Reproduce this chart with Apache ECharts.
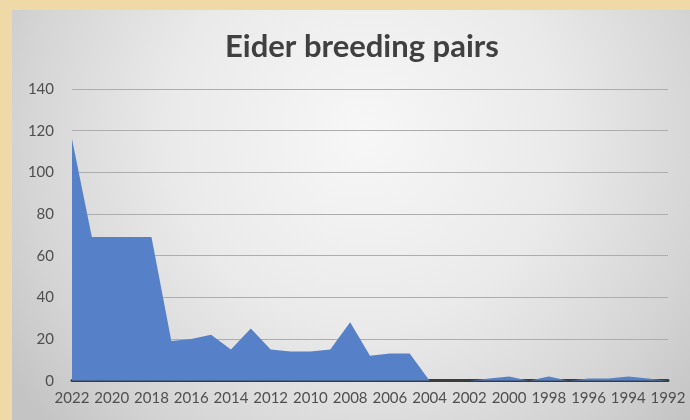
<!DOCTYPE html>
<html>
<head>
<meta charset="utf-8">
<script src="https://cdn.jsdelivr.net/npm/echarts@6/dist/echarts.min.js"></script>
<style>
  html, body { margin: 0; padding: 0; background: #efdaa7; }
  #chart { width: 690px; height: 420px; }
</style>
</head>
<body>
<div id="chart"></div>
<script>
// Survey years, newest first, as plotted left to right
const years = ['2022','2021','2020','2019','2018','2017','2016','2015','2014','2013',
               '2012','2011','2010','2009','2008','2007','2006','2005','2004','2003',
               '2002','2001','2000','1999','1998','1997','1996','1995','1994','1993','1992'];

// Number of eider breeding pairs counted each year
const breedingPairs = [116, 69, 69, 69, 69, 19, 20, 22, 15, 25,
                       15, 14, 14, 15, 28, 12, 13, 13, 0, 0,
                       0, 1, 2, 0, 2, 0, 1, 1, 2, 1, 0];

// Value axis ticks
const yTicks = [0, 20, 40, 60, 80, 100, 120, 140];

const chart = echarts.init(document.getElementById('chart'), null, { renderer: 'canvas' });

const fontFamily = 'Lato, "Open Sans", sans-serif';

chart.setOption({
  backgroundColor: '#efdaa7',
  animation: false,
  graphic: [
    {
      type: 'rect',
      z: -100,
      silent: true,
      shape: { x: 12, y: 10, width: 678, height: 410 },
      style: {
        fill: {
          type: 'radial',
          x: 0.52, y: 0.3, r: 1.05,
          colorStops: [
            { offset: 0, color: '#f7f7f7' },
            { offset: 0.45, color: '#eaeaea' },
            { offset: 0.8, color: '#d4d4d4' },
            { offset: 1, color: '#c4c4c4' }
          ]
        }
      }
    },
    {
      type: 'text',
      z: 10,
      x: 362,
      y: 31,
      style: {
        text: 'Eider breeding pairs',
        fill: '#404040',
        font: 'bold 31px ' + fontFamily,
        textAlign: 'center',
        textVerticalAlign: 'top'
      }
    }
  ],
  grid: { left: 72, right: 22, top: 89, bottom: 39.3, containLabel: false },
  xAxis: {
    type: 'category',
    data: years,
    boundaryGap: false,
    axisLine: { show: true, lineStyle: { color: '#3c3c3c', width: 3 } },
    axisTick: { show: false },
    axisLabel: {
      interval: 1,
      margin: 10,
      color: '#4f4f4f',
      fontSize: 15,
      fontFamily: fontFamily
    },
    splitLine: { show: false }
  },
  yAxis: {
    type: 'value',
    min: yTicks[0],
    max: yTicks[yTicks.length - 1],
    interval: yTicks[1] - yTicks[0],
    axisLine: { show: false },
    axisTick: { show: false },
    axisLabel: {
      margin: 18,
      color: '#4f4f4f',
      fontSize: 15,
      fontFamily: fontFamily
    },
    splitLine: { show: true, lineStyle: { color: '#adadad', width: 1 } }
  },
  series: [
    {
      type: 'line',
      data: breedingPairs,
      showSymbol: false,
      symbol: 'none',
      lineStyle: { width: 0 },
      areaStyle: { color: '#5681c8', opacity: 1 },
      z: 2
    }
  ]
});
</script>
</body>
</html>
